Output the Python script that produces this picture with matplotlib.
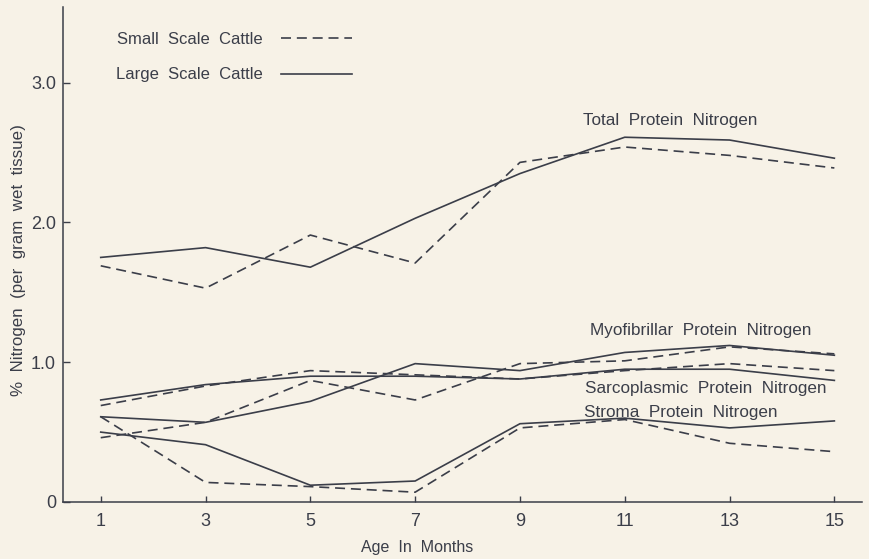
import numpy as np
import matplotlib.pyplot as plt
from matplotlib.lines import Line2D

plt.rcParams['font.family'] = ['Liberation Sans', 'DejaVu Sans']

months = [1, 3, 5, 7, 9, 11, 13, 15]

# % nitrogen, large (solid) and small (dashed) scale cattle
total_large = [1.75, 1.82, 1.68, 2.03, 2.35, 2.61, 2.59, 2.46]
total_small = [1.69, 1.53, 1.91, 1.71, 2.43, 2.54, 2.48, 2.39]
myo_large = [0.61, 0.57, 0.72, 0.99, 0.94, 1.07, 1.12, 1.05]
myo_small = [0.46, 0.57, 0.87, 0.73, 0.99, 1.01, 1.11, 1.06]
sarco_large = [0.73, 0.84, 0.90, 0.90, 0.88, 0.95, 0.95, 0.87]
sarco_small = [0.69, 0.83, 0.94, 0.91, 0.88, 0.94, 0.99, 0.94]
stroma_large = [0.50, 0.41, 0.12, 0.15, 0.56, 0.60, 0.53, 0.58]
stroma_small = [0.61, 0.14, 0.11, 0.07, 0.53, 0.59, 0.42, 0.36]

xticks = [1, 3, 5, 7, 9, 11, 13, 15]
xlabels = ['1', '3', '5', '7', '9', '11', '13', '15']
yticks = [0, 1, 2, 3]
ylabels = ['0', '1.0', '2.0', '3.0']

bg = '#f7f2e7'
ink = '#3b3e49'
dash = (6, 3.5)

fig = plt.figure(figsize=(8.69, 5.59), dpi=100, facecolor=bg)
ax = fig.add_axes([0.0725, 0.102, 0.919, 0.885], facecolor=bg)

for large, small in [(total_large, total_small), (myo_large, myo_small),
                     (sarco_large, sarco_small), (stroma_large, stroma_small)]:
    ax.plot(months, large, color=ink, lw=1.2)
    ax.plot(months, small, color=ink, lw=1.2, dashes=dash)

ax.set_xlim(0.28, 15.52)
ax.set_ylim(0, 3.54)
for s in ['top', 'right']:
    ax.spines[s].set_visible(False)
for s in ['left', 'bottom']:
    ax.spines[s].set_color(ink)
    ax.spines[s].set_linewidth(1.1)

ax.set_xticks(xticks, xlabels)
ax.set_yticks(yticks, ylabels)
ax.tick_params(axis='x', direction='in', length=4, width=1, color=ink,
               labelsize=13, labelcolor=ink, pad=8)
ax.tick_params(axis='y', direction='in', length=5, width=1, color=ink,
               labelsize=13, labelcolor=ink, pad=5)

ax.set_xlabel('Age  In  Months', fontsize=11.5, color=ink)
ax.xaxis.set_label_coords(0.443, -0.077)
ax.set_ylabel('%  Nitrogen  (per  gram  wet  tissue)', fontsize=12.2, color=ink)
ax.yaxis.set_label_coords(-0.046, 0.49)

handles = [Line2D([], [], color=ink, lw=1.2, dashes=dash),
           Line2D([], [], color=ink, lw=1.2)]
ax.legend(handles, ['Small  Scale  Cattle', 'Large  Scale  Cattle'],
          loc='upper left', bbox_to_anchor=(0.066, 0.951), frameon=False,
          markerfirst=False, handlelength=4.3, handletextpad=1.1,
          labelspacing=1.25, borderpad=0, borderaxespad=0,
          prop={'size': 12}, labelcolor=ink)

labels = [('Total  Protein  Nitrogen', 10.2, 2.73),
          ('Myofibrillar  Protein  Nitrogen', 10.33, 1.23),
          ('Sarcoplasmic  Protein  Nitrogen', 10.24, 0.81),
          ('Stroma  Protein  Nitrogen', 10.22, 0.64)]
for txt, x, y in labels:
    ax.text(x, y, txt, fontsize=12.3, color=ink, ha='left', va='center')

fig.savefig('out.png', dpi=100, facecolor=bg)
